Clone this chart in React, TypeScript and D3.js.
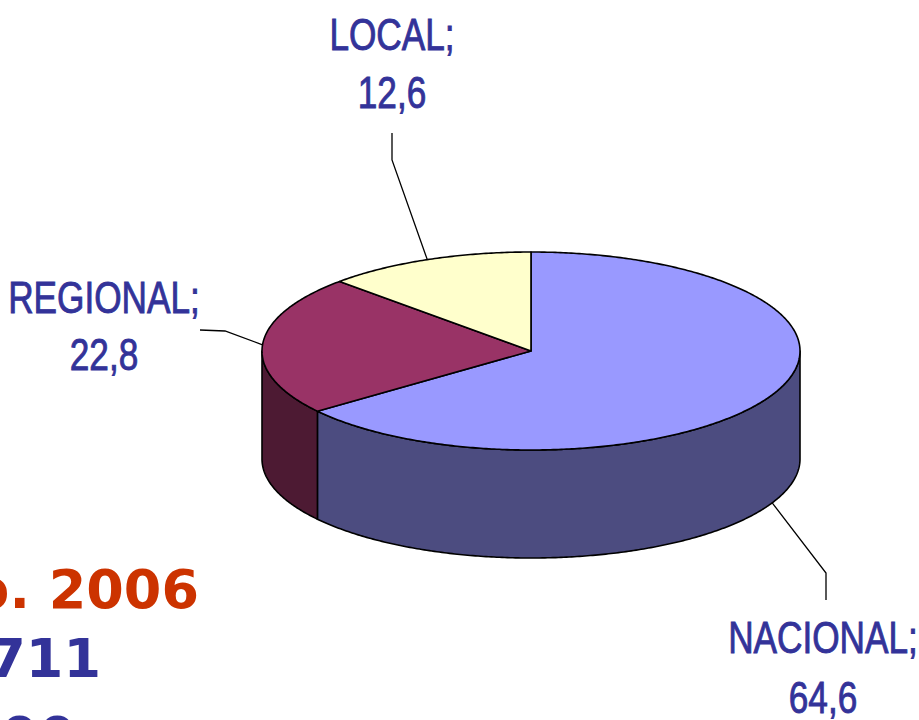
import React from "react";
import * as d3 from "d3";

const categories = ["NACIONAL", "REGIONAL", "LOCAL"];
const values = [64.6, 22.8, 12.6];
const valueLabels = ["64,6", "22,8", "12,6"];
const topColors = ["#9999FF", "#993366", "#FFFFCC"];
const sideColors = ["#4C4C80", "#4D1A33", "#80805F"];

const W = 919;
const H = 720;
const cx = 531;
const cy = 351;
const rx = 269;
const ry = 99;
const depth = 108;

const labelFont = "'Liberation Sans', Arial, sans-serif";
const labelLayout = [
  { x: 823, y1: 653, y2: 713, bend: [826, 573], end: [826, 600], fromBottom: true },
  { x: 104, y1: 313, y2: 370, bend: [225, 331], end: [200, 330], fromBottom: false },
  { x: 392, y1: 50, y2: 108, bend: [392, 160], end: [392, 133], fromBottom: false },
];

function pt(a: number, dy = 0): [number, number] {
  return [cx + rx * Math.sin(a), cy - ry * Math.cos(a) + dy];
}

function arcPoints(a0: number, a1: number, dy = 0): [number, number][] {
  const n = Math.max(2, Math.ceil(Math.abs(a1 - a0) / 0.01));
  return d3.range(n + 1).map((i) => pt(a0 + ((a1 - a0) * i) / n, dy));
}

export default function App() {
  const pie = d3
    .pie<number>()
    .sort(null)
    .startAngle(0)
    .endAngle(2 * Math.PI)(values);

  const line = d3.line();

  const sides = pie
    .map((s, i) => {
      const a0 = Math.max(s.startAngle, Math.PI / 2);
      const a1 = Math.min(s.endAngle, (3 * Math.PI) / 2);
      if (a1 <= a0) return null;
      const top = arcPoints(a0, a1);
      const bottom = arcPoints(a1, a0, depth);
      return { i, d: line([...top, ...bottom])! + "Z" };
    })
    .filter(Boolean) as { i: number; d: string }[];

  const tops = pie.map((s, i) => {
    const pts: [number, number][] = [[cx, cy], ...arcPoints(s.startAngle, s.endAngle)];
    return { i, d: line(pts)! + "Z" };
  });

  return (
    <svg
      width={W}
      height={H}
      style={{ position: "absolute", left: 0, top: 0, background: "#fff" }}
    >
      <rect width={W} height={H} fill="#fff" />
      {sides.map((s) => (
        <path key={"s" + s.i} d={s.d} fill={sideColors[s.i]} stroke="#000" strokeWidth={1.6} strokeLinejoin="round" />
      ))}
      {tops.map((s) => (
        <path key={"t" + s.i} d={s.d} fill={topColors[s.i]} stroke="#000" strokeWidth={1.6} strokeLinejoin="round" />
      ))}
      {pie.map((s, i) => {
        const L = labelLayout[i];
        const mid = (s.startAngle + s.endAngle) / 2;
        const start = pt(mid, L.fromBottom ? depth : 0);
        const pts: [number, number][] = [start, L.bend as [number, number], L.end as [number, number]];
        return (
          <g key={"l" + i}>
            <path d={line(pts)!} fill="none" stroke="#000" strokeWidth={1.3} />
            <text
              transform={`translate(${L.x},${L.y1}) scale(0.8,1)`}
              textAnchor="middle"
              fontFamily={labelFont}
              fontSize={44}
              fill="#333399"
              stroke="#333399"
              strokeWidth={0.9}
            >
              {categories[i]};
            </text>
            <text
              transform={`translate(${L.x},${L.y2}) scale(0.8,1)`}
              textAnchor="middle"
              fontFamily={labelFont}
              fontSize={44}
              fill="#333399"
              stroke="#333399"
              strokeWidth={0.9}
            >
              {valueLabels[i]}
            </text>
          </g>
        );
      })}
      <text x={199} y={608} textAnchor="end" fontFamily="'DejaVu Sans', Verdana, sans-serif" fontWeight="bold" fontSize={54} fill="#CC3300">
        Feb. 2006
      </text>
      <text x={101} y={677} textAnchor="end" fontFamily="'DejaVu Sans', Verdana, sans-serif" fontWeight="bold" fontSize={54} fill="#333399">
        1.711
      </text>
      <text x={76} y={755} textAnchor="end" fontFamily="'DejaVu Sans', Verdana, sans-serif" fontWeight="bold" fontSize={54} fill="#333399">
        2.000
      </text>
    </svg>
  );
}
